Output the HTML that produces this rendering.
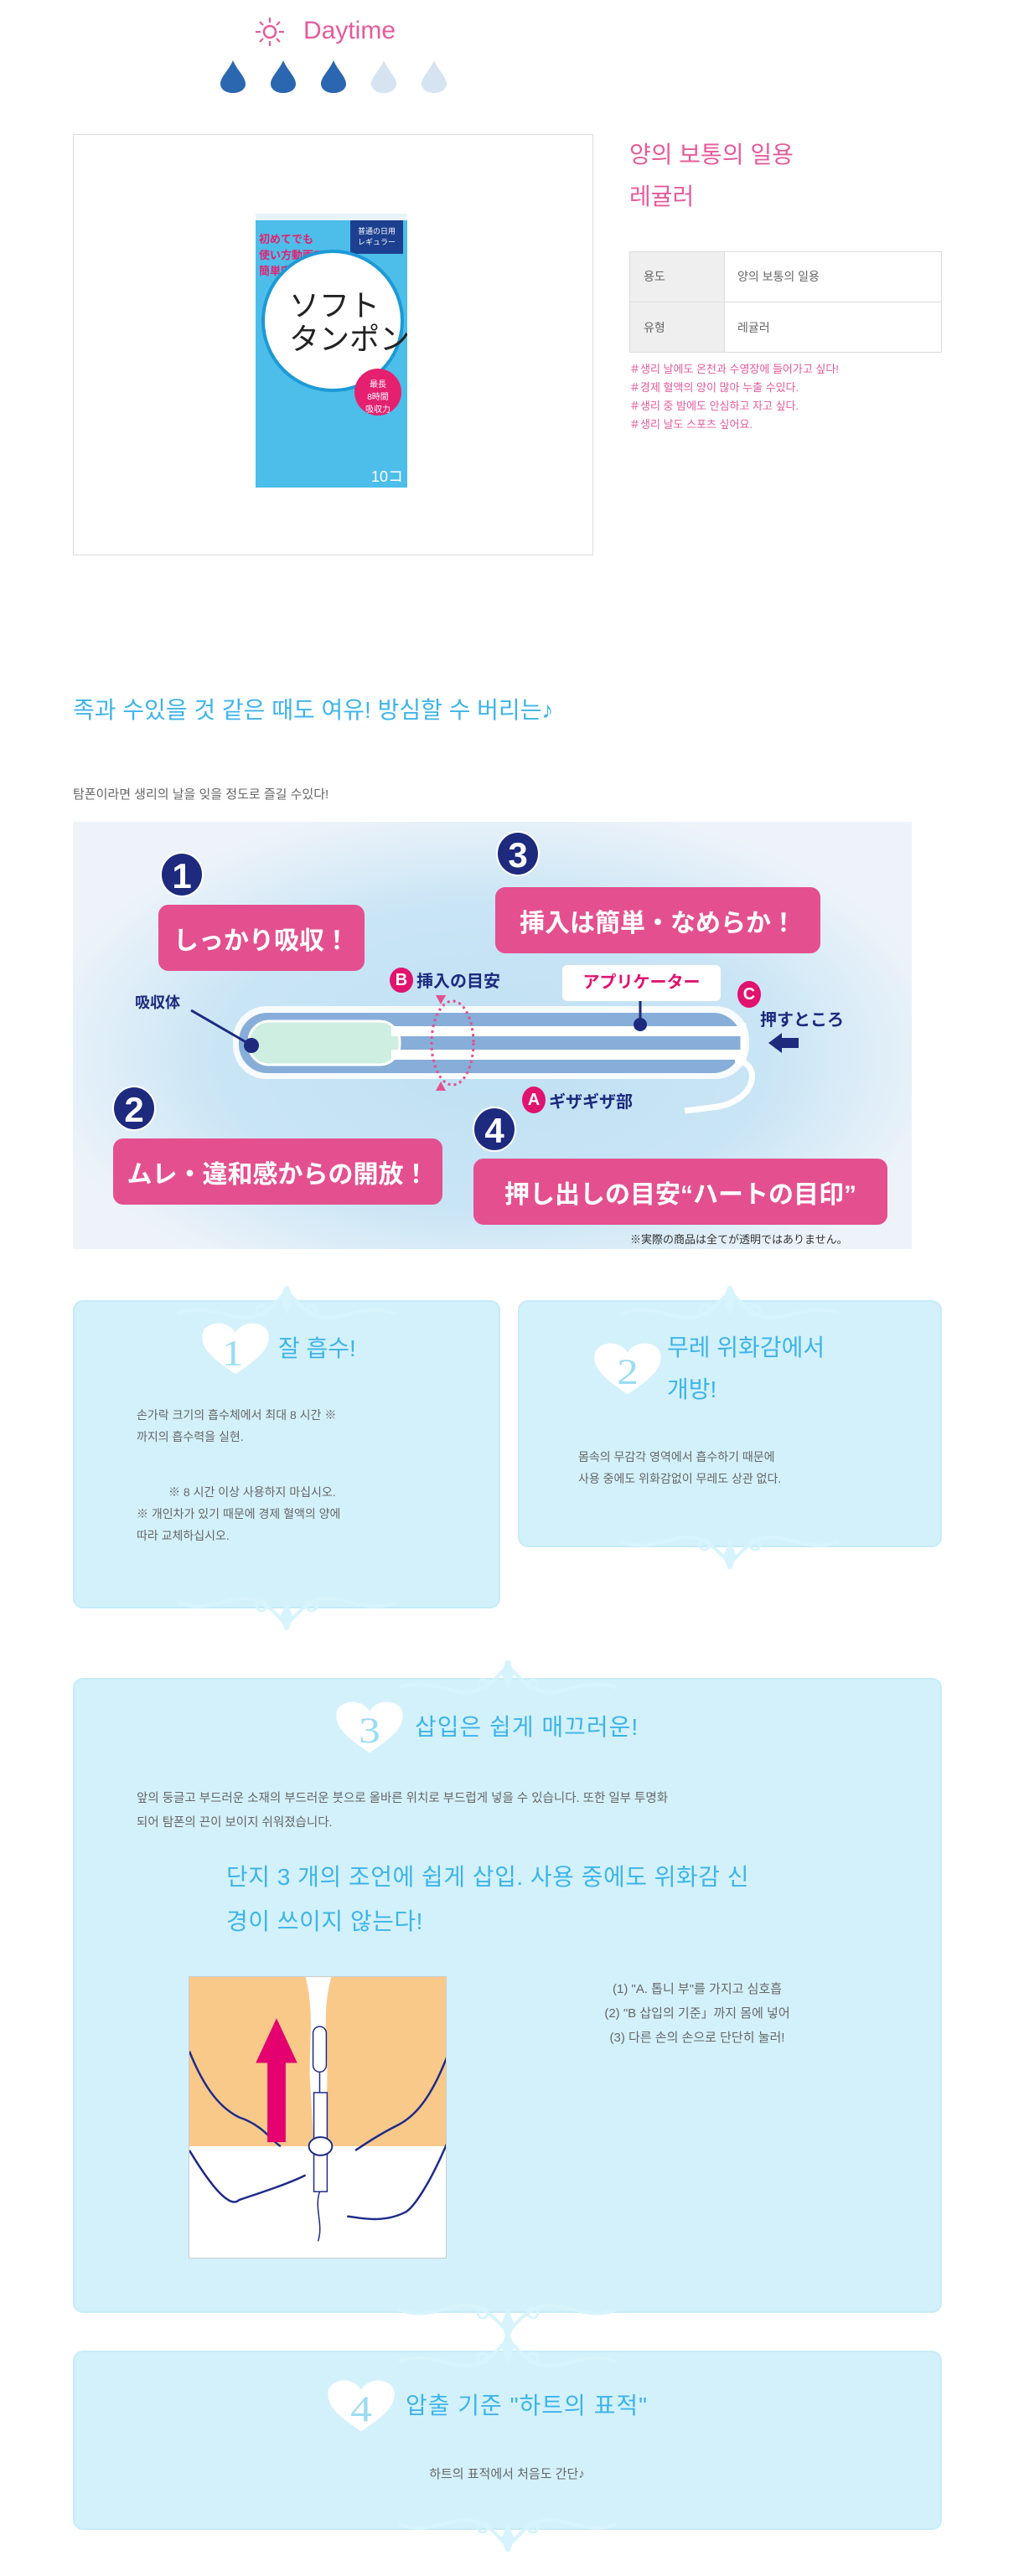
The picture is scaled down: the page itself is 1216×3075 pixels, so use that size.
<!DOCTYPE html>
<html><head><meta charset="utf-8">
<style>
*{margin:0;padding:0;box-sizing:border-box}
body{width:1216px;height:3075px;background:#fff;position:relative;overflow:hidden;font-family:"Liberation Sans","Noto Sans CJK KR",sans-serif;color:#555}
.a{position:absolute;white-space:nowrap}
.card{position:absolute;background:#d3f1fb;border-radius:12px;border:2px solid #c6ecf9}
.pk{position:absolute;background:#e4508f;border-radius:12px;color:#fff;font-weight:bold;font-family:"Liberation Sans","Noto Sans CJK JP",sans-serif;display:flex;align-items:center;justify-content:center;white-space:nowrap}
.nc{position:absolute;width:52px;height:54px;border-radius:50%;background:#1d2a7e;color:#fff;font-weight:bold;font-size:42px;text-align:center;line-height:54px;border:2px solid #fff}
.jp{font-family:"Liberation Sans","Noto Sans CJK JP",sans-serif}
.t{font-size:14px;color:#666;line-height:26px}
</style></head><body>

<!-- Daytime -->
<svg class="a" style="left:304px;top:20px" width="36" height="36" viewBox="0 0 36 36"><circle cx="18" cy="18" r="7" fill="none" stroke="#e65a9b" stroke-width="2.5"/><g stroke="#e65a9b" stroke-width="2.2"><line x1="18" y1="1" x2="18" y2="7"/><line x1="18" y1="29" x2="18" y2="35"/><line x1="1" y1="18" x2="7" y2="18"/><line x1="29" y1="18" x2="35" y2="18"/><line x1="6" y1="6" x2="10" y2="10"/><line x1="26" y1="26" x2="30" y2="30"/><line x1="30" y1="6" x2="26" y2="10"/><line x1="6" y1="30" x2="10" y2="26"/></g></svg>
<div class="a" style="left:362px;top:20px;font-size:30px;color:#e65a9b">Daytime</div>
<svg class="a" style="left:260px;top:72px" width="290" height="40" viewBox="0 0 290 40">
<defs><path id="dr" d="M15,0 C20,12 30,20 30,28 C30,35 23,39 15,39 C7,39 0,35 0,28 C0,20 10,12 15,0Z"/></defs>
<use href="#dr" x="3" fill="#2b67b1"/><use href="#dr" x="63" fill="#2b67b1"/><use href="#dr" x="123" fill="#2b67b1"/><use href="#dr" x="183" fill="#d6e4f2"/><use href="#dr" x="243" fill="#d6e4f2"/></svg>

<!-- product box -->
<div class="a" style="left:87px;top:160px;width:621px;height:503px;border:1px solid #ddd"></div>
<div class="a" style="left:305px;top:255px;width:181px;height:327px;background:#4dbde9;overflow:hidden">
 <div class="a" style="left:0;top:0;width:181px;height:8px;background:#e8f4fa"></div>
 <div class="a" style="left:113px;top:8px;width:63px;height:40px;background:#1d3f8f;color:#fff;font-size:9px;text-align:center;padding-top:6px" ><span class="jp">普通の日用<br>レギュラー</span></div>
 <div class="a jp" style="left:4px;top:20px;font-size:13px;font-weight:bold;color:#e4206f;">初めてでも<br>使い方動画で<br>簡単安心♪</div>
 <div class="a" style="left:7px;top:43px;width:170px;height:170px;border-radius:50%;background:#fff;border:4px solid #1c9ad6"></div>
 <div class="a jp" style="left:40px;top:90px;font-size:36px;color:#222;line-height:40px">ソフト<br>タンポン</div>
 <div class="a" style="left:118px;top:185px;width:56px;height:56px;border-radius:50%;background:#e4206f;color:#fff;font-size:10px;text-align:center;padding-top:10px"><span class="jp">最長<br>8時間<br>吸収力</span></div>
 <div class="a jp" style="left:138px;top:300px;font-size:18px;color:#fff">10コ</div>
</div>

<div class="a" style="left:751px;top:160px;font-size:28px;color:#e65a9b;line-height:50px">양의 보통의 일용<br>레귤러</div>
<div class="a" style="left:751px;top:300px;width:373px;height:121px;border:1px solid #ddd">
 <div class="a" style="left:0;top:0;width:112px;height:119px;background:#efefef"></div>
 <div class="a" style="left:0;top:59px;width:371px;height:1px;background:#ddd"></div>
 <div class="a" style="left:112px;top:0;width:1px;height:119px;background:#ddd"></div>
 <div class="a" style="left:16px;top:19px;font-size:14px;color:#666">용도</div>
 <div class="a" style="left:128px;top:19px;font-size:14px;color:#666">양의 보통의 일용</div>
 <div class="a" style="left:16px;top:80px;font-size:14px;color:#666">유형</div>
 <div class="a" style="left:128px;top:80px;font-size:14px;color:#666">레귤러</div>
</div>
<div class="a" style="left:751px;top:430px;font-size:13px;color:#e65a9b;line-height:22px">＃생리 날에도 온천과 수영장에 들어가고 싶다!<br>＃경제 혈액의 양이 많아 누출 수있다.<br>＃생리 중 밤에도 안심하고 자고 싶다.<br>＃생리 날도 스포츠 싶어요.</div>

<div class="a" style="left:87px;top:826px;font-size:28px;color:#3db4ea">족과 수있을 것 같은 때도 여유! 방심할 수 버리는♪</div>
<div class="a" style="left:87px;top:937px;font-size:15px;color:#666">탐폰이라면 생리의 날을 잊을 정도로 즐길 수있다!</div>

<!-- diagram -->
<div class="a" style="left:87px;top:981px;width:1001px;height:510px;overflow:hidden;background:radial-gradient(ellipse 55% 60% at 50% 55%,#bfe0f4 0%,#c9e5f5 60%,#e0eef8 85%,#eef3fa 100%)">
 <svg class="a" style="left:0;top:0" width="1003" height="514">
  <rect x="191" y="220" width="616" height="87" rx="40" fill="#fff" opacity="0.85"/>
  <rect x="198" y="228" width="600" height="72" rx="34" fill="#2a6fb8" opacity="0.55"/>
  <rect x="210" y="238" width="180" height="52" rx="24" fill="#cdeee0" stroke="#fff" stroke-width="3"/>
  <rect x="380" y="244" width="420" height="12" fill="#fff"/>
  <rect x="380" y="272" width="420" height="12" fill="#fff"/>
  <path d="M800,240 L800,290 M790,285 C820,285 820,330 770,340 L730,345" stroke="#fff" stroke-width="7" fill="none"/>
  <ellipse cx="453" cy="264" rx="25" ry="50" fill="none" stroke="#e4508f" stroke-width="3" stroke-dasharray="3 4"/>
  <polygon points="433,207 445,207 439,218" fill="#e4508f"/><polygon points="433,321 445,321 439,310" fill="#e4508f"/>
  <line x1="141" y1="225" x2="210" y2="265" stroke="#1d2a7e" stroke-width="3"/><circle cx="213" cy="267" r="9" fill="#1d2a7e"/>
  <line x1="677" y1="214" x2="677" y2="240" stroke="#1d2a7e" stroke-width="3"/><circle cx="677" cy="242" r="8" fill="#1d2a7e"/>
  <polygon points="830,264 846,252 846,258 866,258 866,270 846,270 846,276" fill="#1d2a7e"/>
 </svg>
 <div class="nc" style="left:104px;top:36px">1</div>
 <div class="pk" style="left:102px;top:99px;width:246px;height:79px;font-size:30px">しっかり吸収！</div>
 <div class="nc" style="left:505px;top:11px">3</div>
 <div class="pk" style="left:504px;top:78px;width:388px;height:79px;font-size:30px">挿入は簡単・なめらか！</div>
 <div class="a" style="left:378px;top:174px;width:28px;height:30px;border-radius:50%;background:#e0136f;color:#fff;font-weight:bold;font-size:20px;text-align:center;line-height:30px">B</div>
 <div class="a jp" style="left:410px;top:174px;font-size:20px;font-weight:bold;color:#1d2a7e">挿入の目安</div>
 <div class="a jp" style="left:584px;top:171px;width:189px;height:43px;background:#fff;border-radius:6px;color:#e0136f;font-weight:bold;font-size:20px;text-align:center;line-height:43px">アプリケーター</div>
 <div class="a" style="left:793px;top:190px;width:28px;height:32px;border-radius:50%;background:#e0136f;color:#fff;font-weight:bold;font-size:20px;text-align:center;line-height:32px">C</div>
 <div class="a jp" style="left:820px;top:220px;font-size:20px;font-weight:bold;color:#1d2a7e">押すところ</div>
 <div class="a jp" style="left:74px;top:202px;font-size:18px;font-weight:bold;color:#1d2a7e">吸収体</div>
 <div class="a" style="left:536px;top:316px;width:28px;height:32px;border-radius:50%;background:#e0136f;color:#fff;font-weight:bold;font-size:20px;text-align:center;line-height:32px">A</div>
 <div class="a jp" style="left:568px;top:318px;font-size:20px;font-weight:bold;color:#1d2a7e">ギザギザ部</div>
 <div class="nc" style="left:47px;top:315px">2</div>
 <div class="pk" style="left:48px;top:378px;width:393px;height:79px;font-size:30px">ムレ・違和感からの開放！</div>
 <div class="nc" style="left:477px;top:340px">4</div>
 <div class="pk" style="left:478px;top:402px;width:494px;height:79px;font-size:30px">押し出しの目安“ハートの目印”</div>
 <div class="a jp" style="left:665px;top:488px;font-size:13px;color:#333">※実際の商品は全てが透明ではありません。</div>
</div>

<!-- ornament & heart defs -->
<svg width="0" height="0" style="position:absolute"><defs>
 <g id="orn"><path d="M-130,8 C-90,-8 -60,25 -30,8 C-15,0 -10,-10 0,-18 C10,-10 15,0 30,8 C60,25 90,-8 130,8" fill="none" stroke="#d7f4fd" stroke-width="4"/><path d="M0,-30 L8,-10 L0,10 L-8,-10Z" fill="#d7f4fd"/><circle cx="-30" cy="4" r="6" fill="none" stroke="#d7f4fd" stroke-width="3"/><circle cx="30" cy="4" r="6" fill="none" stroke="#d7f4fd" stroke-width="3"/></g>
 <path id="hrt" d="M50,95 C22,72 2,55 4,30 C6,8 38,2 50,26 C62,2 94,8 96,30 C98,55 78,72 50,95Z"/>
</defs></svg>

<!-- card 1 -->
<div class="card" style="left:87px;top:1552px;width:510px;height:368px"></div>
<svg class="a" style="left:211px;top:1535px" width="262" height="40"><use href="#orn" x="131" y="25"/></svg>
<svg class="a" style="left:211px;top:1906px" width="262" height="40"><use href="#orn" transform="translate(131,15) scale(1,-1)"/></svg>
<svg class="a" style="left:238px;top:1572px" width="86" height="72" viewBox="0 0 100 100" preserveAspectRatio="none"><use href="#hrt" fill="#fff"/><text x="46" y="80" font-size="60" fill="#9adcf3" text-anchor="middle" font-family="Liberation Serif">1</text></svg>
<div class="a" style="left:332px;top:1588px;font-size:28px;color:#3db4ea">잘 흡수!</div>
<div class="a t" style="left:163px;top:1676px">손가락 크기의 흡수체에서 최대 8 시간 ※<br>까지의 흡수력을 실현.</div>
<div class="a t" style="left:163px;top:1768px"><span style="padding-left:38px">※ 8 시간 이상 사용하지 마십시오.</span><br>※ 개인차가 있기 때문에 경제 혈액의 양에<br>따라 교체하십시오.</div>

<!-- card 2 -->
<div class="card" style="left:618px;top:1552px;width:506px;height:295px"></div>
<svg class="a" style="left:740px;top:1535px" width="262" height="40"><use href="#orn" x="131" y="25"/></svg>
<svg class="a" style="left:740px;top:1833px" width="262" height="40"><use href="#orn" transform="translate(131,15) scale(1,-1)"/></svg>
<svg class="a" style="left:706px;top:1596px" width="86" height="72" viewBox="0 0 100 100" preserveAspectRatio="none"><use href="#hrt" fill="#fff"/><text x="50" y="78" font-size="60" fill="#9adcf3" text-anchor="middle" font-family="Liberation Serif">2</text></svg>
<div class="a" style="left:796px;top:1584px;font-size:28px;color:#3db4ea;line-height:50px">무레 위화감에서<br>개방!</div>
<div class="a t" style="left:690px;top:1726px">몸속의 무감각 영역에서 흡수하기 때문에<br>사용 중에도 위화감없이 무레도 상관 없다.</div>

<!-- card 3 -->
<div class="card" style="left:87px;top:2003px;width:1037px;height:758px"></div>
<svg class="a" style="left:475px;top:1982px" width="262" height="40"><use href="#orn" x="131" y="25"/></svg>
<svg class="a" style="left:398px;top:2024px" width="86" height="72" viewBox="0 0 100 100" preserveAspectRatio="none"><use href="#hrt" fill="#fff"/><text x="50" y="78" font-size="60" fill="#9adcf3" text-anchor="middle" font-family="Liberation Serif">3</text></svg>
<div class="a" style="left:495px;top:2040px;font-size:28px;color:#3db4ea;letter-spacing:1px">삽입은 쉽게 매끄러운!</div>
<div class="a" style="left:163px;top:2133px;font-size:14.5px;color:#666;line-height:29px">앞의 둥글고 부드러운 소재의 부드러운 붓으로 올바른 위치로 부드럽게 넣을 수 있습니다. 또한 일부 투명화<br>되어 탐폰의 끈이 보이지 쉬워졌습니다.</div>
<div class="a" style="left:270px;top:2214px;font-size:28px;color:#3db4ea;line-height:53px;letter-spacing:0.5px">단지 3 개의 조언에 쉽게 삽입. 사용 중에도 위화감 신<br>경이 쓰이지 않는다!</div>
<div class="a" style="left:225px;top:2359px;width:308px;height:337px;background:#fff;border:1px solid #ccc;overflow:hidden">
 <svg width="308" height="337" viewBox="0 0 311 342" preserveAspectRatio="none">
  <path d="M0,0 L140,0 C150,40 145,70 145,120 L150,205 L0,205Z" fill="#f9c98a"/>
  <path d="M171,0 L311,0 L311,205 L165,205 L166,120 C166,70 160,40 171,0Z" fill="#f9c98a"/>
  <path d="M0,90 C20,140 40,160 60,170 C90,180 100,200 110,205 M0,210 C30,260 50,280 60,270 C90,260 120,250 140,240 M311,95 C290,150 270,170 250,180 C230,190 215,200 200,210 M311,200 C290,250 270,280 260,285 C230,300 200,290 190,290" stroke="#1d2a8a" stroke-width="2.5" fill="none"/>
  <rect x="149" y="60" width="16" height="55" rx="8" fill="#fff" stroke="#1d2a8a" stroke-width="1.5"/>
  <rect x="150" y="140" width="16" height="120" fill="#fff" stroke="#1d2a8a" stroke-width="1.5"/>
  <path d="M157,115 L157,140 M157,260 C150,280 162,300 155,320" stroke="#1d2a8a" stroke-width="1.5" fill="none"/>
  <ellipse cx="158" cy="205" rx="14" ry="11" fill="#fff" stroke="#1d2a8a" stroke-width="2"/>
  <polygon points="105,50 80,104 94,104 94,200 116,200 116,104 130,104" fill="#e4006f"/>
 </svg>
</div>
<div class="a" style="left:632px;top:2360px;width:400px;text-align:center;font-size:15px;color:#666;line-height:29px">(1) "A. 톱니 부"를 가지고 심호흡<br>(2) "B 삽입의 기준」까지 몸에 넣어<br>(3) 다른 손의 손으로 단단히 눌러!</div>

<!-- card 4 -->
<div class="card" style="left:87px;top:2806px;width:1037px;height:214px"></div>
<svg class="a" style="left:475px;top:2750px" width="262" height="40"><use href="#orn" transform="translate(131,15) scale(1,-1)"/></svg>
<svg class="a" style="left:475px;top:2786px" width="262" height="40"><use href="#orn" x="131" y="25"/></svg>
<svg class="a" style="left:475px;top:3006px" width="262" height="40"><use href="#orn" transform="translate(131,15) scale(1,-1)"/></svg>
<svg class="a" style="left:388px;top:2834px" width="86" height="72" viewBox="0 0 100 100" preserveAspectRatio="none"><use href="#hrt" fill="#fff"/><text x="50" y="78" font-size="60" fill="#9adcf3" text-anchor="middle" font-family="Liberation Serif">4</text></svg>
<div class="a" style="left:484px;top:2850px;font-size:28px;color:#3db4ea;letter-spacing:1px">압출 기준 "하트의 표적"</div>
<div class="a" style="left:405px;top:2942px;width:400px;text-align:center;font-size:15px;color:#666">하트의 표적에서 처음도 간단♪</div>

</body></html>
